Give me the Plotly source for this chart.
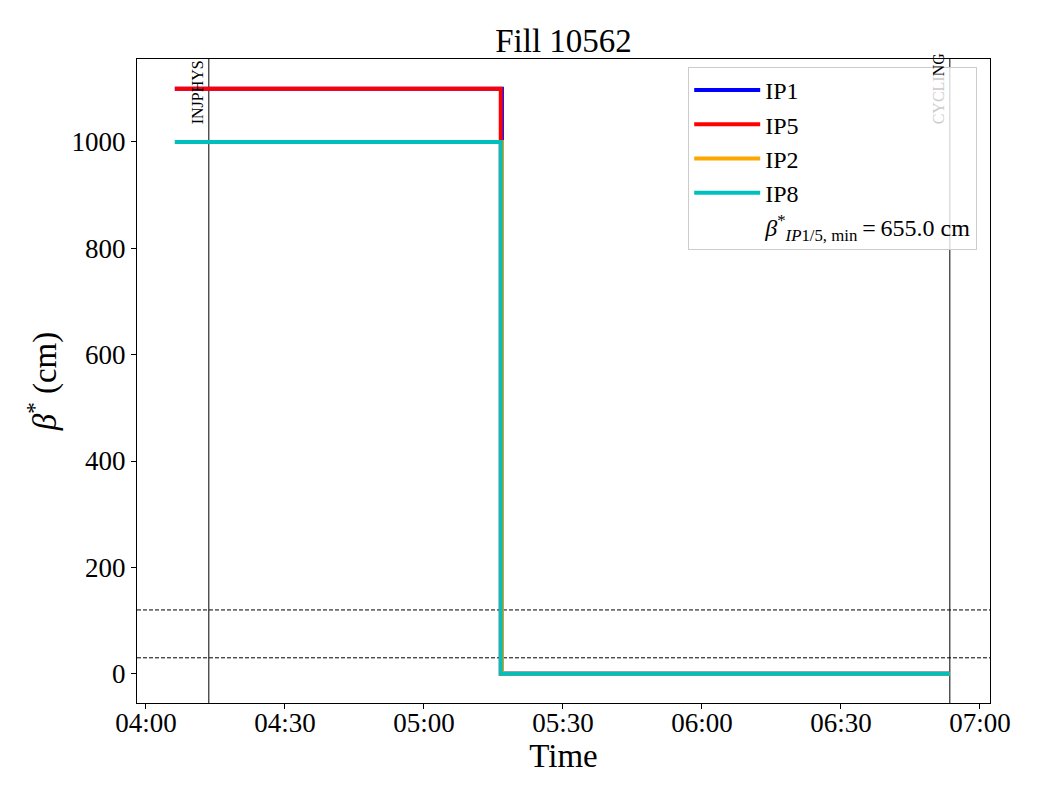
import plotly.graph_objects as go

# ---- data ----
day = "2025-05-01 "
series_names = ["IP1", "IP5", "IP2", "IP8"]
series_colors = ["#0000ff", "#ff0000", "#ffa500", "#00bfbf"]
ip1_times = ["04:06:15", "05:16:50", "06:53:30"]
ip1_values = [1100, 0, 0]
ip5_times = ["04:06:15", "05:16:35", "06:53:30"]
ip5_values = [1100, 0, 0]
ip2_times = ["04:06:15", "05:16:50", "06:53:30"]
ip2_values = [1000, 0, 0]
ip8_times = ["04:06:15", "05:16:35", "06:53:30"]
ip8_values = [1000, 0, 0]
mode_times = ["04:13:35", "06:53:30"]
mode_labels = ["INJPHYS", "CYCLING"]
mode_label_y = 1030
threshold_values = [120, 30]
beta_min_label = "<i>β</i><sup>*</sup><sub><i>IP</i>1/5, min</sub>\u2009=\u2009655.0 cm"
x_range = ["03:58:05", "07:02:10"]
y_range = [-55, 1156]
tick_times = ["04:00", "04:30", "05:00", "05:30", "06:00", "06:30", "07:00"]
y_ticks = [0, 200, 400, 600, 800, 1000]

FONT = "Liberation Serif, Times New Roman, serif"

fig = go.Figure()
all_times = [ip1_times, ip5_times, ip2_times, ip8_times]
all_values = [ip1_values, ip5_values, ip2_values, ip8_values]
for name, color, t, v in zip(series_names, series_colors, all_times, all_values):
    fig.add_trace(go.Scatter(
        x=[day + s for s in t], y=v, name=name, mode="lines",
        line=dict(color=color, width=4, shape="hv"),
    ))
fig.add_trace(go.Scatter(
    x=[None], y=[None], name=beta_min_label, mode="lines",
    line=dict(color="rgba(0,0,0,0)", width=4),
))

for t in mode_times:
    fig.add_shape(type="line", xref="x", yref="paper", x0=day + t, x1=day + t,
                  y0=0, y1=1, line=dict(color="black", width=1), layer="below")
for v in threshold_values:
    fig.add_shape(type="line", xref="paper", yref="y", x0=0, x1=1, y0=v, y1=v,
                  line=dict(color="black", width=1, dash="4px,2px"), layer="below")

# mode labels
fig.add_annotation(x=day + mode_times[0], y=mode_label_y, xref="x", yref="y",
                   text=mode_labels[0], textangle=-90, showarrow=False,
                   xanchor="right", yanchor="bottom", xshift=-1,
                   font=dict(family=FONT, size=16, color="black"))
fig.add_annotation(x=day + mode_times[1], y=mode_label_y, xref="x", yref="y",
                   text="<span style='color:#cccccc'>" + mode_labels[1][:5] + "</span>" + mode_labels[1][5:],
                   textangle=-90, showarrow=False, xanchor="right", yanchor="bottom", xshift=-1,
                   font=dict(family=FONT, size=16, color="black"))

ticks_full = [day + s for s in tick_times]
fig.update_layout(
    width=1024, height=784,
    margin=dict(l=129, r=42, t=51, b=89),
    paper_bgcolor="white", plot_bgcolor="white",
    font=dict(family=FONT, color="black"),
    title=dict(text="Fill 10562", x=(129 + 853 / 2) / 1024, xanchor="center",
               y=1 - 32 / 784, yanchor="middle",
               font=dict(family=FONT, size=33, color="black")),
    showlegend=True,
    legend=dict(x=0.985, y=1 - 8 / 644, xanchor="right", yanchor="top",
                bgcolor="rgba(255,255,255,0.8)", bordercolor="#cccccc", borderwidth=1,
                font=dict(family=FONT, size=24, color="black"),
                itemwidth=66),
    xaxis=dict(
        range=[day + x_range[0], day + x_range[1]],
        tickvals=ticks_full, ticktext=tick_times,
        showgrid=False, zeroline=False, showline=True, mirror=True,
        linecolor="black", linewidth=1, ticks="outside", ticklen=5, tickcolor="black",
        tickfont=dict(family=FONT, size=27, color="black"),
        ticklabelstandoff=-9,
        title=dict(text="Time", font=dict(family=FONT, size=33, color="black"), standoff=0),
    ),
    yaxis=dict(
        range=y_range, tickvals=y_ticks,
        showgrid=False, zeroline=False, showline=True, mirror=True,
        linecolor="black", linewidth=1, ticks="outside", ticklen=5, tickcolor="black",
        tickfont=dict(family=FONT, size=27, color="black"),
        title=dict(text="<i>β</i><sup>*</sup> (cm)", font=dict(family=FONT, size=33, color="black"), standoff=5),
    ),
)

fig.write_html("out.html")
